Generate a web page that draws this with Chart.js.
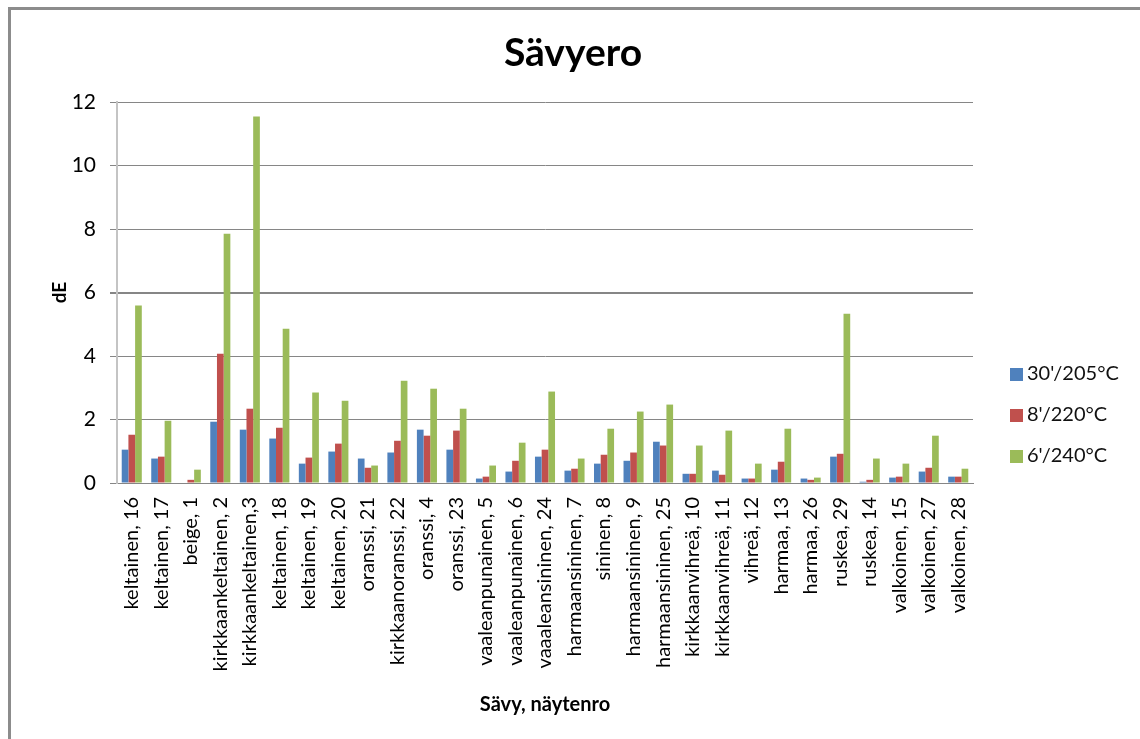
<!DOCTYPE html>
<html lang="fi">
<head>
    <meta charset="UTF-8">
    <title>Sävyero</title>
    <script src="https://cdn.jsdelivr.net/npm/chart.js"></script>
    <style>
        html, body { margin: 0; padding: 0; background: #fff; overflow: hidden; }
        #wrap { position: relative; width: 1140px; height: 739px; }
        #frame { position: absolute; left: 8px; top: 7px; width: 1200px; height: 800px; border: 3px solid #8c8c8c; }
        #chart { position: absolute; left: 0; top: 0; }
        #title { position: absolute; left: 0; top: 28px; width: 1146px; text-align: center; font: bold 39px Lato, sans-serif; line-height: 46px; color: #000; }
        #legend { position: absolute; left: 1010px; top: 360px; font: 20px Lato, sans-serif; color: #111; }
        #legend div { height: 41px; line-height: 24px; white-space: nowrap; }
        #legend span { display: inline-block; width: 13px; height: 13px; margin-right: 4px; vertical-align: -1px; }
    </style>
</head>
<body>
<div id="wrap">
    <div id="frame"></div>
    <canvas id="chart" width="1140" height="739"></canvas>
    <div id="title">Sävyero</div>
    <div id="legend"></div>
</div>
<script>
const categories = [
    "keltainen, 16", "keltainen, 17", "beige, 1", "kirkkaankeltainen, 2", "kirkkaankeltainen,3",
    "keltainen, 18", "keltainen, 19", "keltainen, 20", "oranssi, 21", "kirkkaanoranssi, 22",
    "oranssi, 4", "oranssi, 23", "vaaleanpunainen, 5", "vaaleanpunainen, 6", "vaaaleansininen, 24",
    "harmaansininen, 7", "sininen, 8", "harmaansininen, 9", "harmaansininen, 25", "kirkkaanvihreä, 10",
    "kirkkaanvihreä, 11", "vihreä, 12", "harmaa, 13", "harmaa, 26", "ruskea, 29",
    "ruskea, 14", "valkoinen, 15", "valkoinen, 27", "valkoinen, 28"
];
const seriesNames = ["30'/205°C", "8'/220°C", "6'/240°C"];
const seriesColors = ["#4f81bd", "#c0504d", "#9bbb59"];

const values30_205 = [1.05, 0.77, 0, 1.93, 1.68, 1.40, 0.61, 0.99, 0.77, 0.96, 1.68, 1.05, 0.14, 0.36, 0.83,
    0.39, 0.61, 0.70, 1.30, 0.29, 0.39, 0.14, 0.42, 0.14, 0.83, 0.04, 0.17, 0.36, 0.20];
const values8_220 = [1.52, 0.83, 0.10, 4.07, 2.34, 1.74, 0.80, 1.24, 0.48, 1.33, 1.49, 1.65, 0.20, 0.70, 1.05,
    0.45, 0.89, 0.96, 1.18, 0.29, 0.26, 0.14, 0.67, 0.10, 0.92, 0.10, 0.20, 0.48, 0.20];
const values6_240 = [5.59, 1.96, 0.42, 7.85, 11.54, 4.86, 2.85, 2.59, 0.55, 3.22, 2.97, 2.34, 0.55, 1.27, 2.88,
    0.77, 1.71, 2.25, 2.47, 1.18, 1.65, 0.61, 1.71, 0.17, 5.33, 0.77, 0.61, 1.49, 0.45];

const yTicks = [0, 2, 4, 6, 8, 10, 12];

const allValues = [values30_205, values8_220, values6_240];
const datasets = allValues.map((vals, i) => ({
    label: seriesNames[i],
    data: vals,
    backgroundColor: seriesColors[i],
    borderWidth: 0,
    barPercentage: 1.0,
    categoryPercentage: 0.68
}));

// legend (html)
document.getElementById("legend").innerHTML = seriesNames.map((name, i) =>
    `<div><span style="background:${seriesColors[i]}"></span>${name}</div>`
).join("");

const font = "Lato";

new Chart(document.getElementById("chart"), {
    type: "bar",
    data: { labels: categories, datasets },
    options: {
        responsive: false,
        animation: false,
        layout: { padding: { left: 10, right: 167, top: 102, bottom: 0 } },
        plugins: {
            legend: { display: false },
            tooltip: { enabled: false }
        },
        scales: {
            x: {
                grid: { display: false, drawTicks: false },
                border: { display: true, color: "#868686", width: 1 },
                ticks: {
                    color: "#000",
                    font: { family: font, size: 20 },
                    minRotation: 90,
                    maxRotation: 90,
                    autoSkip: false,
                    padding: 14
                },
                title: {
                    display: true,
                    text: "Sävy, näytenro",
                    color: "#000",
                    font: { family: font, size: 20, weight: "bold" },
                    padding: { top: 0, bottom: 22 }
                },
                afterFit: (scale) => { scale.height = 256; }
            },
            y: {
                min: 0,
                max: 12,
                afterBuildTicks: (scale) => { scale.ticks = yTicks.map(v => ({ value: v })); },
                grid: {
                    color: "#868686",
                    lineWidth: (ctx) => (ctx.tick && ctx.tick.value === 6 ? 2 : 1),
                    tickLength: 7
                },
                border: { display: true, color: "#c4c4c4", width: 2 },
                ticks: {
                    color: "#000",
                    font: { family: font, size: 21 },
                    padding: 14
                },
                title: {
                    display: true,
                    text: "dE",
                    color: "#000",
                    font: { family: font, size: 19, weight: "bold" },
                    padding: { top: 38, bottom: 0 }
                },
                afterFit: (scale) => { scale.width = 107; }
            }
        }
    }
});
</script>
</body>
</html>
